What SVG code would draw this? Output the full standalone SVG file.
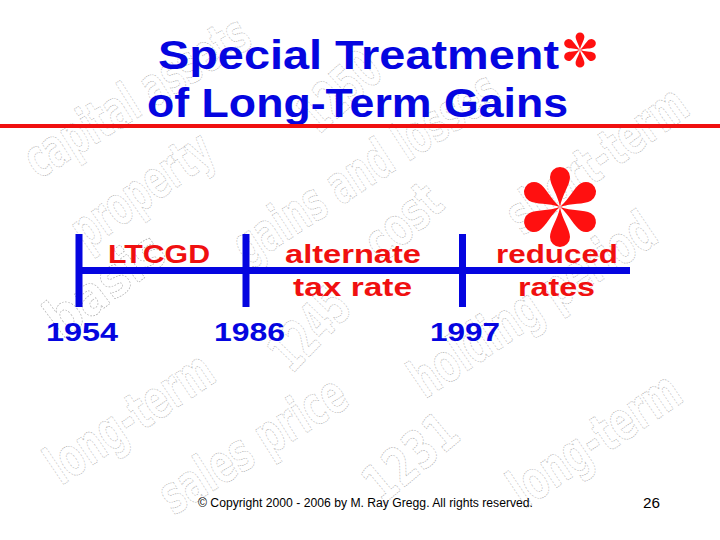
<svg xmlns="http://www.w3.org/2000/svg" width="720" height="540" viewBox="0 0 720 540">
<style>
.wm{font-family:"DejaVu Sans","Liberation Sans",sans-serif;font-weight:bold;font-size:54px;fill:none;stroke:#b0b0b0;stroke-width:0.7;stroke-dasharray:2 1.5;text-anchor:middle}
.title{font-family:"Liberation Sans",Arial,sans-serif;font-weight:bold;font-size:40px;fill:#0505e0}
.lbl{font-family:"Liberation Sans",Arial,sans-serif;font-weight:bold;font-size:26px;fill:#f01010}
.yr{font-family:"Liberation Sans",Arial,sans-serif;font-weight:bold;font-size:26px;fill:#0505e0}
.bar{stroke:#0505e0;stroke-width:7;fill:none}
.foot{font-family:"Liberation Sans",Arial,sans-serif;font-size:12px;fill:#000}
</style>
<defs>
<path id="petal" d="M0,0 C-2,-12 -10,-22 -10,-30 A10,10 0 0 1 10,-30 C10,-22 2,-12 0,0Z" fill="#ff1010"/>
<g id="star">
<use href="#petal"/>
<use href="#petal" transform="rotate(60)"/>
<use href="#petal" transform="rotate(120)"/>
<use href="#petal" transform="rotate(180)"/>
<use href="#petal" transform="rotate(240)"/>
<use href="#petal" transform="rotate(300)"/>
</g>
</defs>
<rect width="720" height="540" fill="#fff"/>
<g id="watermarks">
<text class="wm" transform="translate(137,97) rotate(-32)" y="18" textLength="255" lengthAdjust="spacingAndGlyphs">capital assets</text>
<text class="wm" transform="translate(142,190) rotate(-35)" y="18" textLength="160" lengthAdjust="spacingAndGlyphs">property</text>
<text class="wm" transform="translate(105,285) rotate(-37)" y="18" textLength="135" lengthAdjust="spacingAndGlyphs">basis</text>
<text class="wm" transform="translate(366,168) rotate(-33)" y="18" textLength="305" lengthAdjust="spacingAndGlyphs">gains and losses</text>
<text class="wm" transform="translate(340,92) rotate(-42)" y="18" textLength="90" lengthAdjust="spacingAndGlyphs">1250</text>
<text class="wm" transform="translate(403,222) rotate(-42)" y="18" textLength="85" lengthAdjust="spacingAndGlyphs">cost</text>
<text class="wm" transform="translate(310,330) rotate(-46)" y="18" textLength="90" lengthAdjust="spacingAndGlyphs">1245</text>
<text class="wm" transform="translate(597,160) rotate(-36)" y="18" textLength="210" lengthAdjust="spacingAndGlyphs">short-term</text>
<text class="wm" transform="translate(533,305) rotate(-34)" y="18" textLength="285" lengthAdjust="spacingAndGlyphs">holding period</text>
<text class="wm" transform="translate(130,418) rotate(-34)" y="18" textLength="190" lengthAdjust="spacingAndGlyphs">long-term</text>
<text class="wm" transform="translate(253,445) rotate(-32)" y="18" textLength="210" lengthAdjust="spacingAndGlyphs">sales price</text>
<text class="wm" transform="translate(411,458) rotate(-40)" y="18" textLength="105" lengthAdjust="spacingAndGlyphs">1231</text>
<text class="wm" transform="translate(595,440) rotate(-34)" y="18" textLength="195" lengthAdjust="spacingAndGlyphs">long-term</text>
</g>
<g id="title">
<text class="title" x="158" y="69" textLength="401" lengthAdjust="spacingAndGlyphs">Special Treatment</text>
<text class="title" x="147" y="117" textLength="421" lengthAdjust="spacingAndGlyphs">of Long-Term Gains</text>
<use href="#star" transform="translate(580,50) scale(0.44)"/>
<line x1="0" y1="126" x2="720" y2="126" stroke="#f01010" stroke-width="4"/>
</g>
<g id="connectors">
<line class="bar" x1="77" y1="270.5" x2="630" y2="270.5"/>
<line class="bar" x1="79" y1="234" x2="79" y2="307"/>
<line class="bar" x1="246" y1="234" x2="246" y2="307"/>
<line class="bar" x1="462.5" y1="234" x2="462.5" y2="307"/>
</g>
<g id="node-1954">
<text class="lbl" x="108" y="263" textLength="102" lengthAdjust="spacingAndGlyphs">LTCGD</text>
<text class="yr" x="46" y="341" textLength="72" lengthAdjust="spacingAndGlyphs">1954</text>
</g>
<g id="node-1986">
<text class="lbl" x="285" y="263" textLength="136" lengthAdjust="spacingAndGlyphs">alternate</text>
<text class="lbl" x="293" y="296" textLength="119" lengthAdjust="spacingAndGlyphs">tax rate</text>
<text class="yr" x="214" y="341" textLength="71" lengthAdjust="spacingAndGlyphs">1986</text>
</g>
<g id="node-1997">
<use href="#star" transform="translate(560,207)"/>
<text class="lbl" x="496" y="263" textLength="122" lengthAdjust="spacingAndGlyphs">reduced</text>
<text class="lbl" x="518" y="296" textLength="77" lengthAdjust="spacingAndGlyphs">rates</text>
<text class="yr" x="430" y="341" textLength="70" lengthAdjust="spacingAndGlyphs">1997</text>
</g>
<g id="footer">
<text class="foot" x="198" y="507" textLength="335" lengthAdjust="spacingAndGlyphs">© Copyright 2000 - 2006 by M. Ray Gregg.  All rights reserved.</text>
<text class="foot" x="643" y="508" style="font-size:14px" textLength="17" lengthAdjust="spacingAndGlyphs">26</text>
</g>
</svg>
